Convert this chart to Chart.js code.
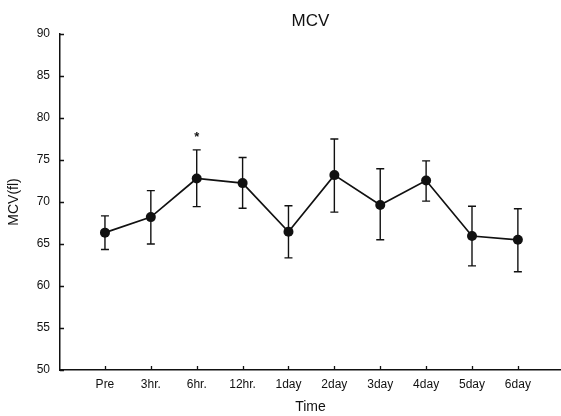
<!DOCTYPE html>
<html>
<head>
<meta charset="utf-8">
<title>MCV</title>
<script src="https://cdn.jsdelivr.net/npm/chart.js@4/dist/chart.umd.min.js"></script>
<style>
  html, body { margin: 0; padding: 0; background: #fff; }
  #wrap { width: 561px; height: 416px; position: relative; }
</style>
</head>
<body>
<div id="wrap"><canvas id="mcvChart"></canvas></div>
<script>
// values
const timeLabels = ['Pre', '3hr.', '6hr.', '12hr.', '1day', '2day', '3day', '4day', '5day', '6day'];
const mcvMean = [66.35, 68.2, 72.8, 72.25, 66.45, 73.2, 69.65, 72.55, 65.95, 65.5];
const mcvUpper = [68.35, 71.35, 76.2, 75.3, 69.55, 77.5, 73.95, 74.9, 69.5, 69.2];
const mcvLower = [64.35, 65.0, 69.45, 69.25, 63.35, 68.8, 65.5, 70.1, 62.4, 61.7];
const sigMarks = ['', '', '*', '', '', '', '', '', '', ''];
const yTicks = [50, 55, 60, 65, 70, 75, 80, 85, 90];

const ink = '#111';
const baseFont = "'Liberation Sans', Arial, sans-serif";

// SD bars behind the points, star + inward tick marks on top
const errorBars = {
    id: 'errorBars',
    beforeDatasetsDraw(chart) {
        const c = chart.ctx;
        const xs = chart.scales.x;
        const ys = chart.scales.y;
        c.save();
        c.strokeStyle = ink;
        c.lineWidth = 1.4;
        mcvMean.forEach((m, i) => {
            const x = xs.getPixelForValue(i);
            const top = ys.getPixelForValue(mcvUpper[i]);
            const bot = ys.getPixelForValue(mcvLower[i]);
            c.beginPath();
            c.moveTo(x, top); c.lineTo(x, bot);
            c.moveTo(x - 4, top); c.lineTo(x + 4, top);
            c.moveTo(x - 4, bot); c.lineTo(x + 4, bot);
            c.stroke();
        });
        c.restore();
    },
    afterDatasetsDraw(chart) {
        const c = chart.ctx;
        const xs = chart.scales.x;
        const ys = chart.scales.y;
        const area = chart.chartArea;
        c.save();
        c.fillStyle = ink;
        c.font = 'bold 13px ' + baseFont;
        c.textAlign = 'center';
        c.textBaseline = 'middle';
        sigMarks.forEach((s, i) => {
            if (!s) return;
            c.fillText(s, xs.getPixelForValue(i), ys.getPixelForValue(mcvUpper[i]) - 12);
        });
        // tick marks pointing into the plot
        c.strokeStyle = ink;
        c.lineWidth = 1.3;
        c.beginPath();
        timeLabels.forEach((_, i) => {
            const x = Math.round(xs.getPixelForValue(i)) + 0.5;
            c.moveTo(x, area.bottom); c.lineTo(x, area.bottom - 4);
        });
        yTicks.forEach(v => {
            const y = Math.round(ys.getPixelForValue(v)) + 0.5;
            c.moveTo(area.left, y); c.lineTo(area.left + 4, y);
        });
        c.stroke();
        c.restore();
    }
};

const ctx = document.getElementById('mcvChart').getContext('2d');

new Chart(ctx, {
    type: 'line',
    data: {
        datasets: [{
            label: 'MCV',
            data: mcvMean.map((v, i) => ({ x: i, y: v })),
            borderColor: ink,
            backgroundColor: ink,
            borderWidth: 1.7,
            pointRadius: 5,
            pointBackgroundColor: ink,
            pointBorderWidth: 0,
            tension: 0,
            clip: false
        }]
    },
    options: {
        responsive: true,
        maintainAspectRatio: false,
        animation: false,
        layout: { padding: 0, autoPadding: false },
        plugins: {
            legend: { display: false },
            tooltip: { enabled: false },
            title: {
                display: true,
                text: 'MCV',
                fullSize: false,
                color: ink,
                font: { family: baseFont, size: 17, weight: 'normal' },
                padding: { top: 11, bottom: 2.6 }
            }
        },
        scales: {
            x: {
                type: 'linear',
                min: -0.98,
                max: 9.94,
                afterBuildTicks: s => { s.ticks = timeLabels.map((_, i) => ({ value: i })); },
                afterFit: s => { s.height = 46; },
                grid: { drawOnChartArea: false, drawTicks: false },
                border: { color: ink, width: 1.5 },
                ticks: {
                    color: ink,
                    padding: 7,
                    maxRotation: 0,
                    autoSkip: false,
                    font: { family: baseFont, size: 12 },
                    callback: v => timeLabels[v] ?? ''
                },
                title: {
                    display: true,
                    text: 'Time',
                    color: ink,
                    font: { family: baseFont, size: 14 },
                    padding: { top: 0, bottom: 0 }
                }
            },
            y: {
                min: 50,
                max: 90,
                afterBuildTicks: s => { s.ticks = yTicks.map(v => ({ value: v })); },
                afterFit: s => { s.width = 60; },
                grid: { drawOnChartArea: false, drawTicks: false },
                border: { color: ink, width: 1.5 },
                ticks: {
                    color: ink,
                    padding: 10,
                    font: { family: baseFont, size: 12 }
                },
                title: {
                    display: true,
                    text: 'MCV(fl)',
                    color: ink,
                    font: { family: baseFont, size: 14 },
                    padding: { top: 6, bottom: 0 }
                }
            }
        }
    },
    plugins: [errorBars]
});
</script>
</body>
</html>
